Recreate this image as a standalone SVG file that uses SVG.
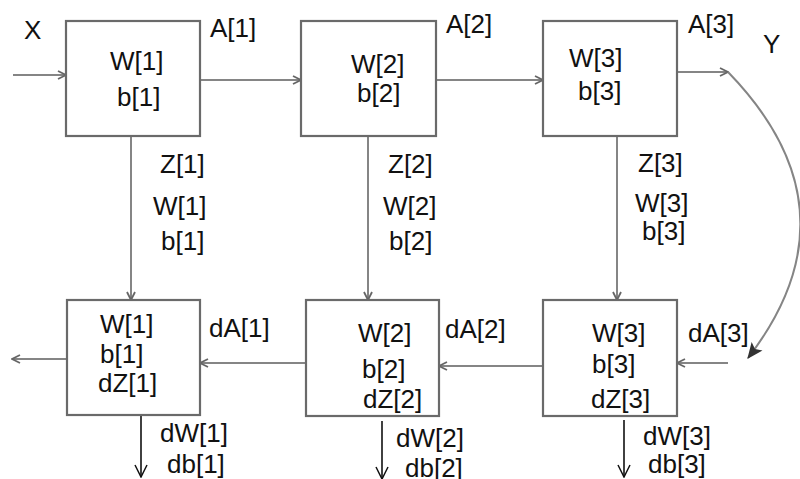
<svg xmlns="http://www.w3.org/2000/svg" width="800" height="479" viewBox="0 0 800 479">
<defs>
<style>
text{font-family:"Liberation Sans",Arial,sans-serif;font-size:26px;fill:#111}
.box{fill:#fff;stroke:#6a6a6a;stroke-width:2.2}
.c{fill:none;stroke:#858585;stroke-width:2}
.k{fill:none;stroke:#111;stroke-width:1.6}
</style>
<marker id="ag" viewBox="0 0 10 10" refX="9" refY="5" markerWidth="10" markerHeight="10" markerUnits="userSpaceOnUse" orient="auto">
<path d="M1,1 L9,5 L1,9" fill="none" stroke="#666" stroke-width="1.8"/>
</marker>
<marker id="ak" viewBox="0 0 14 14" refX="13" refY="7" markerWidth="14" markerHeight="14" markerUnits="userSpaceOnUse" orient="auto">
<path d="M1,1 L13,7 L1,13" fill="none" stroke="#111" stroke-width="1.5"/>
</marker>
<marker id="af" viewBox="0 0 14 12" refX="13" refY="6" markerWidth="16" markerHeight="14" markerUnits="userSpaceOnUse" orient="auto">
<path d="M0,0 L14,6 L0,12 L3,6 Z" fill="#333"/>
</marker>
</defs>
<rect width="800" height="479" fill="#fff"/>
<g id="connectors">
<line class="c" x1="13" y1="75" x2="66" y2="75" marker-end="url(#ag)"/>
<line class="c" x1="200" y1="80" x2="301" y2="80" marker-end="url(#ag)"/>
<line class="c" x1="436" y1="80" x2="543" y2="80" marker-end="url(#ag)"/>
<line class="c" x1="677" y1="72" x2="728" y2="72" marker-end="url(#ag)"/>
<path class="c" d="M728,72 Q862,210 748,358" marker-end="url(#af)"/>
<line class="c" x1="131" y1="136" x2="131" y2="300" marker-end="url(#ag)"/>
<line class="c" x1="368" y1="136" x2="368" y2="300" marker-end="url(#ag)"/>
<line class="c" x1="617" y1="136" x2="617" y2="300" marker-end="url(#ag)"/>
<line class="c" x1="728" y1="363" x2="677" y2="363" marker-end="url(#ag)"/>
<line class="c" x1="543" y1="366" x2="439" y2="366" marker-end="url(#ag)"/>
<line class="c" x1="306" y1="363" x2="200" y2="363" marker-end="url(#ag)"/>
<line class="c" x1="67" y1="359" x2="12" y2="359" marker-end="url(#ag)"/>
<line class="k" x1="141" y1="416" x2="141" y2="477" marker-end="url(#ak)"/>
<line class="k" x1="382" y1="421" x2="382" y2="479" marker-end="url(#ak)"/>
<line class="k" x1="624" y1="420" x2="624" y2="477" marker-end="url(#ak)"/>
</g>
<g id="labels">
<text x="24" y="39">X</text>
<text x="210" y="37">A[1]</text>
<text x="446" y="33">A[2]</text>
<text x="688" y="33">A[3]</text>
<text x="763" y="53">Y</text>
<text x="160" y="173">Z[1]</text>
<text x="153" y="215">W[1]</text>
<text x="161" y="250">b[1]</text>
<text x="388" y="173">Z[2]</text>
<text x="383" y="215">W[2]</text>
<text x="389" y="250">b[2]</text>
<text x="638" y="172">Z[3]</text>
<text x="635" y="212">W[3]</text>
<text x="642" y="240">b[3]</text>
<text x="209" y="337">dA[1]</text>
<text x="445" y="338">dA[2]</text>
<text x="688" y="342">dA[3]</text>
<text x="160" y="442">dW[1]</text>
<text x="167" y="473">db[1]</text>
<text x="396" y="447">dW[2]</text>
<text x="405" y="477">db[2]</text>
<text x="643" y="445">dW[3]</text>
<text x="648" y="473">db[3]</text>
</g>
<g id="f1">
<rect class="box" x="66" y="21" width="134" height="115"/>
<text x="110" y="70">W[1]</text>
<text x="117" y="106">b[1]</text>
</g>
<g id="f2">
<rect class="box" x="301" y="21" width="135" height="115"/>
<text x="351" y="73">W[2]</text>
<text x="357" y="102">b[2]</text>
</g>
<g id="f3">
<rect class="box" x="543" y="21" width="134" height="115"/>
<text x="569" y="67">W[3]</text>
<text x="578" y="100">b[3]</text>
</g>
<g id="b1">
<rect class="box" x="67" y="300" width="133" height="115"/>
<text x="100" y="333">W[1]</text>
<text x="100" y="363">b[1]</text>
<text x="98" y="392">dZ[1]</text>
</g>
<g id="b2">
<rect class="box" x="306" y="300" width="133" height="116"/>
<text x="358" y="342">W[2]</text>
<text x="362" y="378">b[2]</text>
<text x="363" y="408">dZ[2]</text>
</g>
<g id="b3">
<rect class="box" x="543" y="300" width="134" height="116"/>
<text x="592" y="342">W[3]</text>
<text x="592" y="373">b[3]</text>
<text x="591" y="408">dZ[3]</text>
</g>
</svg>
